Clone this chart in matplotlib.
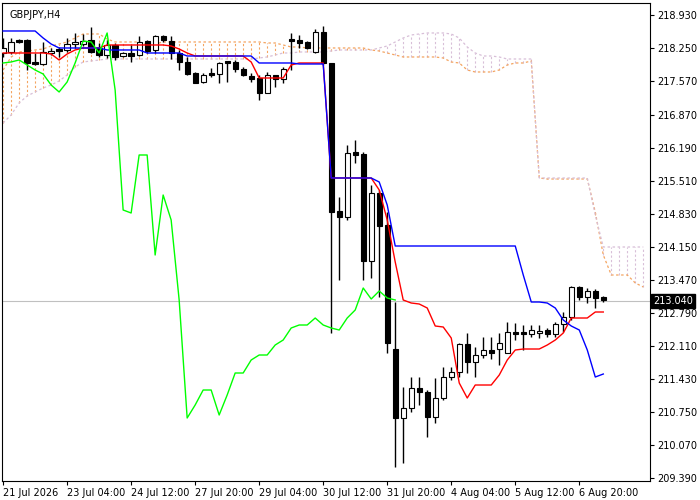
import matplotlib
matplotlib.use("Agg")
import matplotlib.pyplot as plt
import numpy as np

# Readings taken from the chart in screen pixels (y), converted with the axis calibration below
def px2price(v):
    return 218.930 - (np.asarray(v, dtype=float) - 15) * 0.02061

opens_px  = [53,52,40,40,62,64,53,50,50,44,44,40,48,55,45,56,54,55,41,50,36,41,53,62,73,82,74,74,62,62,69,77,78,93,75,79,40,40,42,52,32,63,211,217,153,154,261,193,225,349,418,408,388,392,417,398,377,372,344,362,355,350,349,353,332,333,334,333,330,334,324,317,287,297,291,297]
closes_px = [48,42,42,63,64,52,51,50,44,42,41,52,55,45,57,53,55,42,51,36,40,53,62,74,83,75,74,63,62,69,75,78,93,75,79,69,40,43,48,32,63,212,217,153,154,261,193,226,343,418,408,388,392,417,398,377,372,344,362,355,350,353,343,332,334,333,330,331,334,324,317,287,297,291,298,300]
highs_px  = [38,38,39,39,53,42,48,47,38,33,34,27,43,40,43,52,45,36,40,35,35,36,50,57,72,73,68,62,62,60,67,73,75,72,75,67,33,35,41,29,26,63,197,145,140,152,185,190,212,302,387,377,377,390,378,367,367,343,333,347,337,337,333,322,323,325,325,325,328,322,312,286,286,288,289,296]
lows_px   = [57,54,43,70,65,65,55,57,52,48,46,53,57,58,60,57,62,56,53,53,42,59,70,75,83,83,77,83,82,72,76,82,100,93,87,83,70,48,49,53,65,333,280,220,163,280,278,297,353,467,463,412,405,437,423,400,380,377,373,377,358,359,365,348,340,350,337,338,337,337,332,320,300,303,308,302]

tenkan_px = [53,53,53,53,53,53,54,60,54,50,48,48,48,45,45,45,45,45,45,45,45,46,49,53,56,56,56,56,56,56,56,62,78,78,78,78,65,63,63,63,63,178,178,178,178,178,178,190,220,262,300,303,304,308,326,327,338,383,398,385,385,385,375,360,350,349,349,349,345,340,333,318,318,318,312,312]
kijun_px  = [31,31,31,31,31,38,44,48,48,48,48,48,48,50,50,50,50,50,53,53,53,53,53,56,56,56,56,56,56,56,56,56,63,63,63,63,63,64,64,64,64,178,178,178,178,178,178,182,205,246,246,246,246,246,246,246,246,246,246,246,246,246,246,246,246,275,302,302,303,308,320,326,330,350,377,374]
chikou_px = [63,62,60,65,70,74,85,92,82,63,41,42,53,33,90,210,213,155,155,255,195,220,300,418,405,390,390,415,395,373,373,360,355,355,345,340,328,325,325,318,325,328,330,318,310,288,299,291,298,300]
spanA_px  = [70,57,52,51,50,49,46,44,42,38,34,34,34,39,42,42,42,42,45,44,42,42,42,42,42,42,42,42,42,42,42,42,42,43,43,45,47,47,48,48,48,48,48,48,48,48,50,51,53,55,57,57,57,57,57,58,62,63,70,72,72,72,70,65,63,63,61,178,179,179,179,179,179,179,212,255,275,275,275,283,287]
spanB_px  = [123,115,103,96,92,88,85,81,75,67,62,61,60,59,59,59,59,59,59,59,59,59,59,59,59,59,59,59,59,59,59,59,58,57,55,53,53,52,52,52,52,51,50,50,50,50,50,48,46,42,38,35,34,33,33,33,34,38,47,53,56,56,57,59,59,59,59,178,178,178,178,178,178,178,215,247,247,247,247,247,247]

tick_idx = [0, 8, 16, 24, 32, 40, 48, 56, 64, 72]
tick_labels = ['21 Jul 2026', '23 Jul 04:00', '24 Jul 12:00', '27 Jul 20:00', '29 Jul 04:00',
               '30 Jul 12:00', '31 Jul 20:00', '4 Aug 04:00', '5 Aug 12:00', '6 Aug 20:00']
price_ticks = [218.930, 218.250, 217.570, 216.870, 216.190, 215.510, 214.830, 214.150,
               213.470, 212.790, 212.110, 211.430, 210.750, 210.070, 209.390]
current_price = 213.040
symbol = "GBPJPY,H4"

o = px2price(opens_px); c = px2price(closes_px)
h = px2price(highs_px); l = px2price(lows_px)
tenkan = px2price(tenkan_px); kijun = px2price(kijun_px)
chikou = px2price(chikou_px)
spanA = px2price(spanA_px); spanB = px2price(spanB_px)

fig = plt.figure(figsize=(7, 5), dpi=100)
ax = fig.add_axes([0.003, 0.038, 0.926, 0.956])
ax.set_xlim(-0.125, 80.875)
ax.set_ylim(209.326, 219.177)

# cloud
xc = np.arange(len(spanA))
for i in xc:
    col = '#F4A460' if spanA[i] >= spanB[i] else '#D8BFD8'
    ax.vlines(i, min(spanA[i], spanB[i]), max(spanA[i], spanB[i]), colors=col,
              linestyles=(0, (2, 2)), lw=0.8, zorder=1)
ax.plot(xc, spanA, color='#F4A460', ls=(0, (2, 2)), lw=0.9, zorder=2)
ax.plot(xc, spanB, color='#D8BFD8', ls=(0, (2, 2)), lw=0.9, zorder=2)

ax.axhline(current_price, color='#C0C0C0', lw=0.8, zorder=1)

# candles
n = len(o)
for i in range(n):
    ax.vlines(i, l[i], h[i], colors='black', lw=1, zorder=3)
    lo, hi = min(o[i], c[i]), max(o[i], c[i])
    fc = 'white' if c[i] > o[i] else 'black'
    if hi - lo < 0.03:
        hi += 0.015; lo -= 0.015
    ax.add_patch(plt.Rectangle((i - 0.33, lo), 0.66, hi - lo, facecolor=fc,
                               edgecolor='black', lw=0.8, zorder=4))

ax.plot(np.arange(len(tenkan)), tenkan, color='red', lw=1, zorder=5)
ax.plot(np.arange(len(kijun)), kijun, color='blue', lw=1, zorder=5)
ax.plot(np.arange(len(chikou)), chikou, color='#00FF00', lw=1, zorder=5)

ax.yaxis.tick_right()
ax.set_yticks(price_ticks)
ax.set_yticklabels([f"{p:.3f}" for p in price_ticks], fontsize=7)
ax.tick_params(axis='y', length=3, pad=2)
ax.set_xticks(tick_idx)
ax.set_xticklabels(tick_labels, fontsize=7, ha='left')
ax.tick_params(axis='x', length=3, pad=2)
for lab in ax.get_xticklabels():
    lab.set_x(0)
for sp in ax.spines.values():
    sp.set_linewidth(0.8)

ax.text(1.004, current_price, f"{current_price:.3f}", transform=ax.get_yaxis_transform(),
        fontsize=7, color='white', va='center', ha='left',
        bbox=dict(boxstyle='square,pad=0.2', fc='black', ec='black'))
ax.text(0.012, 0.985, symbol, transform=ax.transAxes, fontsize=7, va='top', ha='left')

fig.savefig('out.png', dpi=100)
